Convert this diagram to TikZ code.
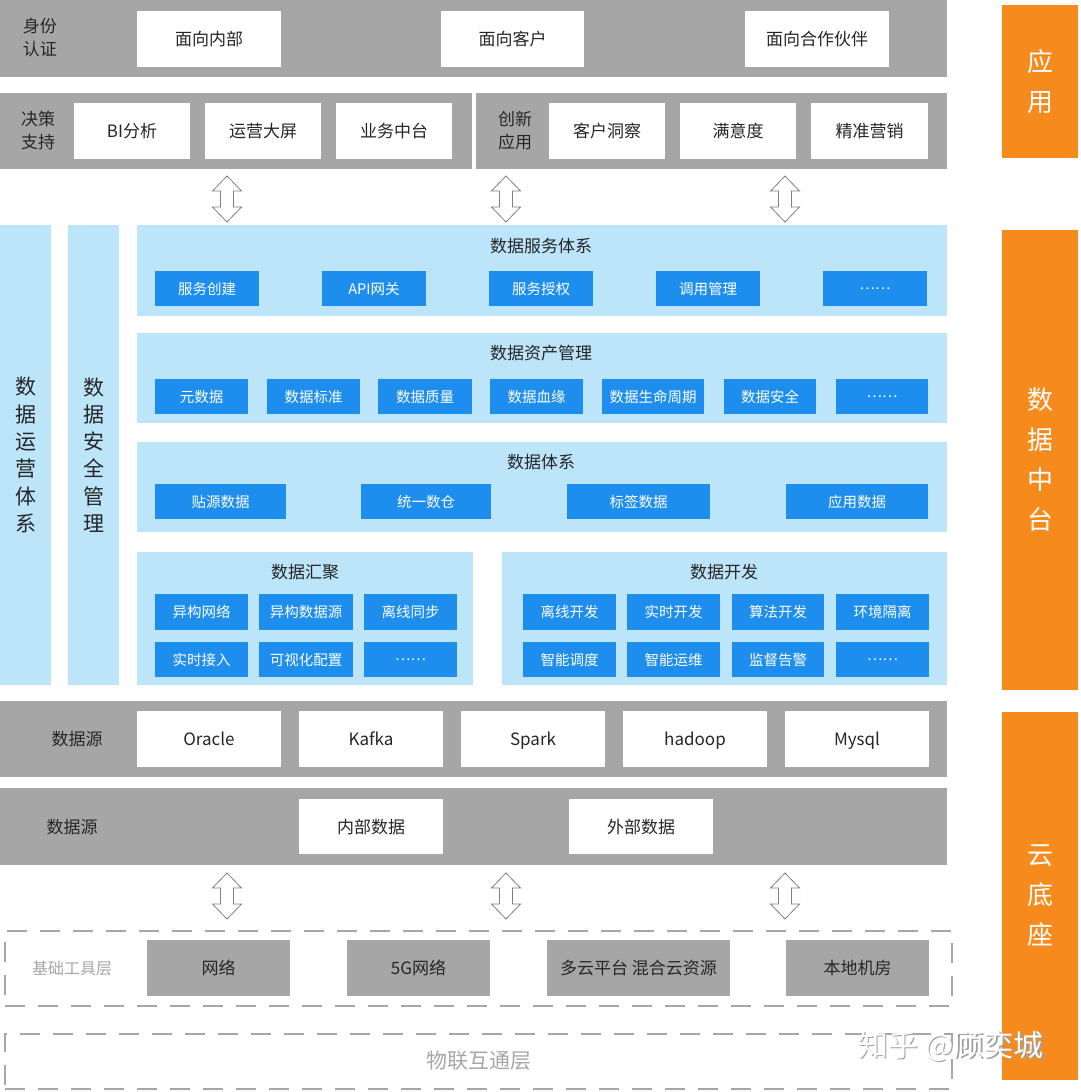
\documentclass[tikz,border=0pt]{standalone}
\usepackage{fontspec}
\setmainfont{Noto Sans CJK SC}
\newfontfamily\cjk{Noto Sans CJK SC}
\definecolor{barg}{HTML}{A6A6A6}
\definecolor{lblue}{HTML}{BDE5FA}
\definecolor{bblue}{HTML}{1E8EEE}
\definecolor{org}{HTML}{F78A1D}
\definecolor{txt}{HTML}{262626}
\definecolor{dgray}{HTML}{A6A6A6}
\definecolor{agray}{HTML}{7F7F7F}
\newcommand\R[7]{\node[#2, minimum width={#5-#3}, minimum height={#6-#4}] (#1) at ({(#3+#5)/2},{(#4+#6)/2}) {#7};}
\newcommand\mydots{\raisebox{4.5pt}{……}}
\begin{document}
\begin{tikzpicture}[x=1pt,y=-1pt,
  every node/.style={font=\cjk, inner sep=0pt, outer sep=0pt, align=center},
  graybar/.style={fill=barg},
  lbl/.style={text=txt, font={\cjk\fontsize{17}{23}\selectfont}},
  one17/.style={text height=15pt, text depth=2pt},
  one14/.style={text height=12.8pt, text depth=1.7pt},
  wbox/.style={fill=white, text=txt, font={\cjk\fontsize{17}{20}\selectfont}, one17},
  panel/.style={fill=lblue},
  ttl/.style={text=txt, font={\cjk\fontsize{17}{20}\selectfont}, one17},
  bbox/.style={fill=bblue, text=white, font={\cjk\fontsize{14.5}{18}\selectfont}, one14},
  vcol/.style={fill=lblue, text=txt, font={\cjk\fontsize{21}{27.3}\selectfont}},
  obar/.style={fill=org, text=white, font={\cjk\fontsize{26}{40}\selectfont}},
  gbox/.style={fill=barg, text=txt, font={\cjk\fontsize{17}{20}\selectfont}, one17},
  dashbox/.style={draw=dgray, line width=2.6pt, dash pattern=on 20pt off 13pt},
  dlbl/.style={text=dgray},
  arrowline/.style={draw=agray, fill=white, line width=0.8pt, line join=miter},
  dblarrow/.pic={\path[arrowline] (0,0) -- (14.5,15) -- (6.5,15) -- (6.5,31) -- (14.5,31) -- (0,46) -- (-14.5,31) -- (-6.5,31) -- (-6.5,15) -- (-14.5,15) -- cycle;}
]
\useasboundingbox (0,0) rectangle (1080,1092);

% ---------- application layer ----------
\R{r1}{graybar}{0}{0}{947}{77}{}
\node[lbl] (r1l) at (40,38) {身份\\认证};
\R{w11}{wbox}{137}{11}{281}{67}{面向内部}
\R{w12}{wbox}{441}{11}{584}{67}{面向客户}
\R{w13}{wbox}{745}{11}{889}{67}{面向合作伙伴}

\R{r2a}{graybar}{0}{93}{472}{169}{}
\R{r2b}{graybar}{476}{93}{947}{169}{}
\node[lbl] (r2al) at (38,131) {决策\\支持};
\R{w21}{wbox}{74}{103}{190}{159}{BI分析}
\R{w22}{wbox}{205}{103}{321}{159}{运营大屏}
\R{w23}{wbox}{336}{103}{452}{159}{业务中台}
\node[lbl] (r2bl) at (515,131) {创新\\应用};
\R{w24}{wbox}{549}{103}{665}{159}{客户洞察}
\R{w25}{wbox}{680}{103}{796}{159}{满意度}
\R{w26}{wbox}{811}{103}{928}{159}{精准营销}

% arrows top
\coordinate (a1) at (227,176);
\coordinate (a2) at (506,176);
\coordinate (a3) at (785,176);
\pic at (a1) {dblarrow};
\pic at (a2) {dblarrow};
\pic at (a3) {dblarrow};

% ---------- data middle platform ----------
\R{c1}{vcol}{0}{225}{51}{685}{数\\据\\运\\营\\体\\系}
\R{c2}{vcol}{68}{225}{119}{685}{数\\据\\安\\全\\管\\理}

\R{p1}{panel}{137}{225}{947}{316}{}
\node[ttl] (p1t) at (541,246) {数据服务体系};
\R{b11}{bbox}{155}{271}{259}{306}{服务创建}
\R{b12}{bbox}{322}{271}{426}{306}{API网关}
\R{b13}{bbox}{489}{271}{593}{306}{服务授权}
\R{b14}{bbox}{656}{271}{760}{306}{调用管理}
\R{b15}{bbox}{823}{271}{927}{306}{\mydots}

\R{p2}{panel}{137}{333}{947}{423}{}
\node[ttl] (p2t) at (541,353) {数据资产管理};
\R{b21}{bbox}{155}{379}{248}{414}{元数据}
\R{b22}{bbox}{267}{379}{360}{414}{数据标准}
\R{b23}{bbox}{378}{379}{472}{414}{数据质量}
\R{b24}{bbox}{490}{379}{583}{414}{数据血缘}
\R{b25}{bbox}{602}{379}{704}{414}{数据生命周期}
\R{b26}{bbox}{724}{379}{816}{414}{数据安全}
\R{b27}{bbox}{836}{379}{928}{414}{\mydots}

\R{p3}{panel}{137}{442}{947}{532}{}
\node[ttl] (p3t) at (541,462) {数据体系};
\R{b31}{bbox}{155}{484}{286}{519}{贴源数据}
\R{b32}{bbox}{361}{484}{491}{519}{统一数仓}
\R{b33}{bbox}{567}{484}{710}{519}{标签数据}
\R{b34}{bbox}{786}{484}{928}{519}{应用数据}

\R{p4}{panel}{137}{552}{473}{685}{}
\node[ttl] (p4t) at (305,572) {数据汇聚};
\R{b41}{bbox}{155}{594}{248}{630}{异构网络}
\R{b42}{bbox}{259}{594}{353}{630}{异构数据源}
\R{b43}{bbox}{364}{594}{457}{630}{离线同步}
\R{b44}{bbox}{155}{642}{248}{677}{实时接入}
\R{b45}{bbox}{259}{642}{353}{677}{可视化配置}
\R{b46}{bbox}{364}{642}{457}{677}{\mydots}

\R{p5}{panel}{502}{552}{947}{685}{}
\node[ttl] (p5t) at (724,572) {数据开发};
\R{b51}{bbox}{523}{594}{616}{630}{离线开发}
\R{b52}{bbox}{627}{594}{720}{630}{实时开发}
\R{b53}{bbox}{732}{594}{824}{630}{算法开发}
\R{b54}{bbox}{836}{594}{929}{630}{环境隔离}
\R{b55}{bbox}{523}{642}{616}{677}{智能调度}
\R{b56}{bbox}{627}{642}{720}{677}{智能运维}
\R{b57}{bbox}{732}{642}{824}{677}{监督告警}
\R{b58}{bbox}{836}{642}{929}{677}{\mydots}

% ---------- data sources ----------
\R{s1}{graybar}{0}{701}{947}{777}{}
\node[lbl] (s1l) at (77,739) {数据源};
\R{o1}{wbox}{137}{711}{281}{767}{Oracle}
\R{o2}{wbox}{299}{711}{443}{767}{Kafka}
\R{o3}{wbox}{461}{711}{605}{767}{Spark}
\R{o4}{wbox}{623}{711}{767}{767}{hadoop}
\R{o5}{wbox}{785}{711}{929}{767}{Mysql}

\R{s2}{graybar}{0}{788}{947}{865}{}
\node[lbl] (s2l) at (72,827) {数据源};
\R{i1}{wbox}{299}{799}{443}{854}{内部数据}
\R{i2}{wbox}{569}{799}{713}{854}{外部数据}

% arrows bottom
\coordinate (a4) at (227,873);
\coordinate (a5) at (506,873);
\coordinate (a6) at (785,873);
\pic at (a4) {dblarrow};
\pic at (a5) {dblarrow};
\pic at (a6) {dblarrow};

% ---------- infrastructure ----------
\R{d1}{dashbox}{5}{931}{952}{1006}{}
\node[dlbl, font={\cjk\fontsize{16}{20}\selectfont}] (d1l) at (72,968) {基础工具层};
\R{g1}{gbox}{147}{940}{290}{996}{网络}
\R{g2}{gbox}{347}{940}{490}{996}{5G网络}
\R{g3}{gbox}{547}{940}{730}{996}{多云平台 混合云资源}
\R{g4}{gbox}{786}{940}{929}{996}{本地机房}

\R{d2}{dashbox}{5}{1034}{952}{1089}{}
\node[dlbl, font={\cjk\fontsize{21}{24}\selectfont}] (d2l) at (479,1061) {物联互通层};

% ---------- orange side bars ----------
\R{o_app}{obar}{1002}{5}{1078}{158}{应\\用}
\R{o_mid}{obar}{1002}{230}{1078}{690}{数\\据\\中\\台}
\R{o_base}{obar}{1002}{712}{1078}{1080}{云\\底\\座}

% watermark
\node[text=gray!75, font={\cjk\fontsize{30}{30}\selectfont}] (wm0) at (952.5,1047.5) {知乎 @顾奕城};
\node[text=white, font={\cjk\fontsize{30}{30}\selectfont}] (wm) at (951,1046) {知乎 @顾奕城};
\end{tikzpicture}
\end{document}
